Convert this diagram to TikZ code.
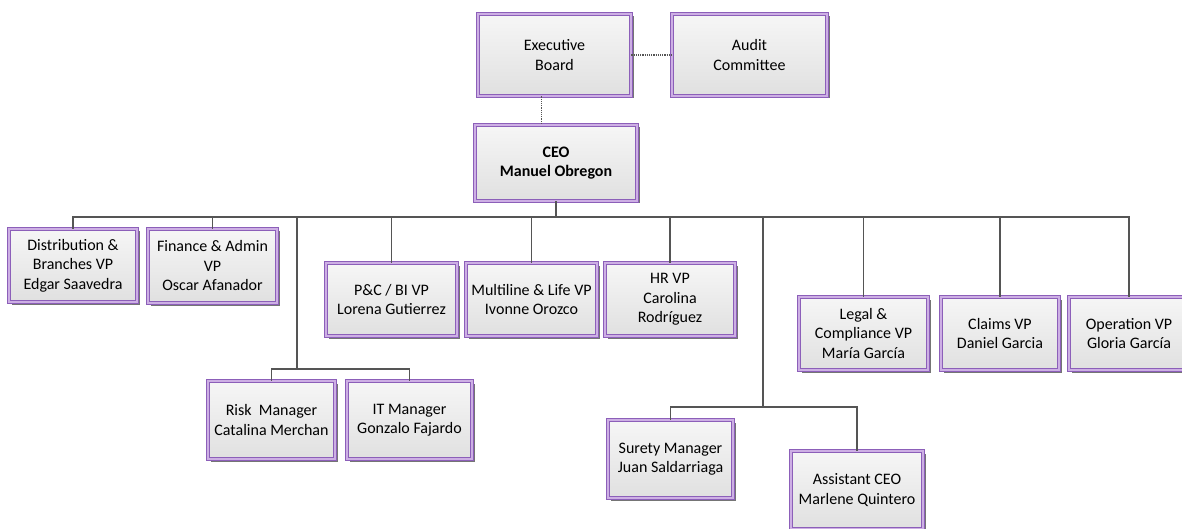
\documentclass[tikz,border=0pt]{standalone}
\usepackage{fontspec}
\setmainfont{Carlito}
\usetikzlibrary{positioning,shadows}
\definecolor{BoxPurple}{RGB}{140,95,185}
\definecolor{BoxLilac}{RGB}{205,175,228}
\definecolor{BoxTop}{RGB}{246,246,246}
\definecolor{BoxBottom}{RGB}{224,224,224}
\definecolor{LinkGray}{RGB}{85,85,85}

\begin{document}
\begin{tikzpicture}[
    x=1pt, y=-1pt,
    unit/.style={
      rectangle, draw=BoxPurple, line width=0.8pt,
      double=BoxLilac, double distance=1.6pt,
      top color=BoxTop, bottom color=BoxBottom,
      drop shadow={shadow xshift=2.5pt, shadow yshift=-2.5pt, fill=black!60, opacity=0.9},
      minimum height=73pt, inner sep=0pt, align=center,
      font=\fontsize{16}{19.5}\selectfont
    },
    link/.style={draw=LinkGray, line width=1.1pt},
    dotlink/.style={draw=LinkGray, line width=1.2pt, densely dotted}
  ]
    \useasboundingbox (0,0) rectangle (1182,529);

    % top of the chart
    \node[unit, minimum width=153pt, minimum height=82pt] (exec) at (554.5,55) {Executive\\Board};
    \node[unit, minimum width=155pt, minimum height=82pt] (audit) at (749.5,55) {Audit\\Committee};
    \node[unit, minimum width=162pt, minimum height=76pt, font=\fontsize{16}{19.5}\selectfont\bfseries] (ceo) at (556,163) {CEO\\Manuel Obregon};

    % vice presidents
    \node[unit, minimum width=128pt] (dist) at (73,265.5) {Distribution \&\\Branches VP\\Edgar Saavedra};
    \node[unit, minimum width=129pt, minimum height=74pt] (fin) at (212.5,266) {Finance \& Admin\\VP\\Oscar Afanador};
    \node[unit, minimum width=131pt] (pc) at (391.5,299.5) {P\&C / BI VP\\Lorena Gutierrez};
    \node[unit, minimum width=131pt] (multi) at (531.5,299.5) {Multiline \& Life VP\\Ivonne Orozco};
    \node[unit, minimum width=130pt] (hr) at (670,299.5) {HR VP\\Carolina\\Rodríguez};
    \node[unit, minimum width=129pt] (legal) at (863.5,333.5) {Legal \&\\Compliance VP\\María García};
    \node[unit, minimum width=118pt] (claims) at (1000,333.5) {Claims VP\\Daniel Garcia};
    \node[unit, minimum width=120pt] (oper) at (1129,333.5) {Operation VP\\Gloria García};

    % managers
    \node[unit, minimum width=127pt, minimum height=78pt] (risk) at (271.5,420) {Risk~ Manager\\Catalina Merchan};
    \node[unit, minimum width=125pt, minimum height=78pt] (it) at (409.5,420) {IT Manager\\Gonzalo Fajardo};
    \node[unit, minimum width=125pt, minimum height=78pt] (surety) at (670.5,459) {Surety Manager\\Juan Saldarriaga};
    \node[unit, minimum width=132pt, minimum height=78pt] (asst) at (857,490) {Assistant CEO\\Marlene Quintero};

    \coordinate (bus) at (0,217);
    \coordinate (riskbus) at (297,369);
    \coordinate (surbus) at (763,407);

    \draw[dotlink] (exec) -- (audit);
    \draw[dotlink] ([xshift=-13pt]exec.south) -- ([xshift=-13pt]exec.south |- ceo.north);

    \draw[link] (ceo.south) -- (ceo.south |- bus);
    \draw[link] (dist.north) -- (dist.north |- bus) -- (oper.north |- bus) -- (oper.north);
    \foreach \n in {fin,pc,multi,hr,legal,claims}
      \draw[link] (\n.north) -- (\n.north |- bus);

    \draw[link] (riskbus |- bus) -- (riskbus);
    \draw[link] (risk.north) |- (riskbus) -| (it.north);
    \draw[link] (surbus |- bus) -- (surbus);
    \draw[link] (surety.north) |- (surbus) -| (asst.north);
  \end{tikzpicture}
\end{document}
